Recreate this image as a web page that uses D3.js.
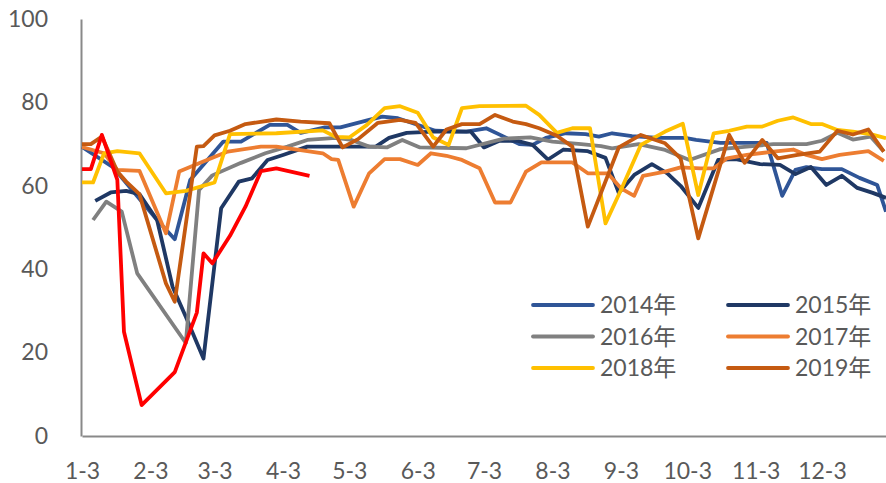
<!DOCTYPE html>
<html>
<head>
<meta charset="utf-8">
<style>
  body { margin: 0; background: #fff; }
  svg text { font-family: Lato, "Noto Sans CJK SC", sans-serif; fill: #595959; }
</style>
</head>
<body>
<div id="chartId"></div>
<script src="https://cdn.jsdelivr.net/npm/d3@7"></script>
<script>

// x values are day-of-year (Jan 3 = 3), y values are the index
const tickDays = [3, 34, 63, 94, 124, 155, 185, 216, 247, 277, 308, 338];
const tickLabels = ['1-3', '2-3', '3-3', '4-3', '5-3', '6-3', '7-3', '8-3', '9-3', '10-3', '11-3', '12-3'];
const yTicks = [0, 20, 40, 60, 80, 100];

const days2014 = [3,17,37,45,52,67,75,88,96,102,113,120,133,139,146,163,177,186,194,201,207,213,222,231,237,243,252,264,276,281,292,307,313,320,326,331,338,347,355,363,367];
const vals2014 = [69.3,64.5,51.8,47.2,61.4,70.6,70.6,74.6,74.6,72.7,74,74,75.8,76.6,76.2,73.2,73,73.8,71.8,70,69.8,71.5,72.6,72.4,71.8,72.6,71.9,71.5,71.5,71,70.3,70.3,70.3,57.6,63.8,64.5,64,64,61.9,60.2,53.8];

const days2015 = [9,16,23,29,37,44,50,58,66,74,80,87,94,105,113,136,142,150,162,179,185,192,200,207,214,221,232,240,246,253,261,268,274,282,291,299,310,319,326,333,340,347,354,361,367];
const vals2015 = [56.4,58.4,58.8,58,51.8,35.8,28.6,18.6,54.6,61,61.8,66.2,67.4,69.4,69.4,69.4,71.5,72.7,73,73,69.2,70.8,70.8,69.8,66.3,68.7,68.3,66.7,58.3,62.6,65.2,63,60,54.7,66.2,66.4,65.2,65,62.8,64.5,60.2,62.4,59.5,58.3,57.1];

const days2016 = [8,14,21,28,50,56,62,75,86,96,105,118,125,133,141,148,156,177,194,206,216,229,238,243,255,267,278,292,304,316,331,338,345,352,360,366];
const vals2016 = [51.8,56.2,53.8,39,22.3,59,62.5,65.5,67.8,69.4,71,71.5,71,69.4,69.2,71,69.2,69,71.3,71.6,70.6,70,69.5,69,70,68.6,66.2,68.8,69.4,70,70,70.8,72.7,71.1,71.8,68.2];

const days2017 = [3,13,19,29,41,47,56,69,84,91,112,116,119,126,133,140,147,155,161,168,175,183,190,197,204,211,225,232,241,247,253,257,267,274,283,289,295,304,316,325,331,338,346,359,366];
const vals2017 = [69.3,67.8,63.8,63.6,48.6,63.4,65.4,68.2,69.4,69.4,67.8,66.4,66.2,55,63,66.4,66.4,65,67.8,67.2,66.2,64.2,56,56,63.4,65.6,65.6,63,63,59.4,57.6,62.4,63.4,64.4,64.2,64.2,66.6,67.4,68.2,68.7,67.4,66.4,67.4,68.3,66];

const days2018 = [3,8,13,19,29,41,50,63,70,91,112,118,124,132,140,147,155,162,169,175,183,204,210,218,225,233,240,247,256,267,275,282,289,296,304,311,318,325,333,338,345,352,360,367];
const vals2018 = [60.8,60.8,67.8,68.3,67.8,58.2,58.8,60.8,72.4,72.6,73.3,71.7,71.6,74.6,78.6,79.1,77.5,71.6,69.8,78.6,79.1,79.2,77,72.7,73.8,73.8,51,59,69.8,73,74.9,57.8,72.6,73.2,74.2,74.2,75.6,76.4,74.8,74.8,73.4,73,72.4,71.4];

const days2019 = [3,7,12,19,23,29,41,45,55,58,63,70,77,91,102,115,121,128,137,147,154,162,168,175,183,190,198,204,210,218,225,232,246,256,267,274,282,296,303,311,318,327,337,345,352,359,366];
const vals2019 = [70,70,71.8,63.4,61,58,36.6,32.2,69.4,69.5,72.1,73.2,74.8,75.9,75.4,75,69.2,71.2,75.1,75.8,75.1,69.4,73.5,74.8,74.8,77,75.4,74.8,73.8,72,69.4,50.2,69.2,72.2,70.2,66.6,47.4,72.2,65.5,71,66.6,67.4,68.2,73.2,72.3,73.5,68.2];

const days2020 = [3,7,12,19,22,30,45,55,58,62,70,77,84,91,106];
const vals2020 = [64,64,72.2,61.4,25,7.4,15.3,29.6,43.8,41.4,48,55,63.5,64.2,62.4];

const seriesNames = ['2014年', '2015年', '2016年', '2017年', '2018年', '2019年', '2020年'];
const seriesColors = ['#2F5597', '#1F3864', '#808080', '#ED7D31', '#FFC000', '#C55A11', '#FF0000'];
const seriesDays = [days2014, days2015, days2016, days2017, days2018, days2019, days2020];
const seriesVals = [vals2014, vals2015, vals2016, vals2017, vals2018, vals2019, vals2020];

const W = 886, H = 483;
const margin = {top: 19, right: 0, bottom: 47, left: 82};

const x = d3.scaleLinear().domain([3, 367]).range([margin.left, W - margin.right]);
const y = d3.scaleLinear().domain([0, 100]).range([H - margin.bottom, margin.top]);
const line = d3.line().x(d => x(d[0])).y(d => y(d[1]));

const svg = d3.select('#chartId').append('svg')
  .attr('width', W)
  .attr('height', H);

svg.append('clipPath').attr('id', 'plotclip')
  .append('rect')
  .attr('x', margin.left - 4).attr('y', 0)
  .attr('width', W - margin.left + 4).attr('height', H);

// axes
const yAxis = d3.axisLeft(y).tickValues(yTicks).tickSize(0).tickPadding(33);
svg.append('g').attr('transform', 'translate(' + (margin.left - 1) + ',0)').call(yAxis)
  .call(g => g.select('.domain').attr('stroke', '#898989').attr('stroke-width', 2))
  .selectAll('text').style('font-size', '23px').style('fill', '#595959');

const xAxis = d3.axisBottom(x).tickValues(tickDays).tickFormat((d, i) => tickLabels[i]).tickSize(0).tickPadding(27);
svg.append('g').attr('transform', 'translate(0,' + (H - margin.bottom) + ')').call(xAxis)
  .call(g => g.select('.domain').attr('stroke', '#898989').attr('stroke-width', 2))
  .selectAll('text').style('font-size', '23px').style('fill', '#595959');

// lines
const lines = svg.append('g').attr('clip-path', 'url(#plotclip)');
seriesNames.forEach((name, i) => {
  const pts = seriesDays[i].map((d, j) => [d, seriesVals[i][j]]);
  lines.append('path')
    .datum(pts)
    .attr('fill', 'none')
    .attr('stroke', seriesColors[i])
    .attr('stroke-width', 3.8)
    .attr('stroke-linejoin', 'round')
    .attr('d', line);
});

// legend (2020 has no entry)
const legend = svg.append('g');
seriesNames.slice(0, 6).forEach((name, i) => {
  const lx = (i % 2 === 0) ? 533 : 728;
  const ly = 305 + Math.floor(i / 2) * 31.5;
  legend.append('line')
    .attr('x1', lx).attr('x2', lx + 60)
    .attr('y1', ly).attr('y2', ly)
    .attr('stroke', seriesColors[i])
    .attr('stroke-width', 3.8)
    .attr('stroke-linecap', 'round');
  legend.append('text')
    .attr('x', lx + 67).attr('y', ly)
    .attr('dy', '0.35em')
    .style('font-size', '23px')
    .text(name);
});

</script>
</body>
</html>
